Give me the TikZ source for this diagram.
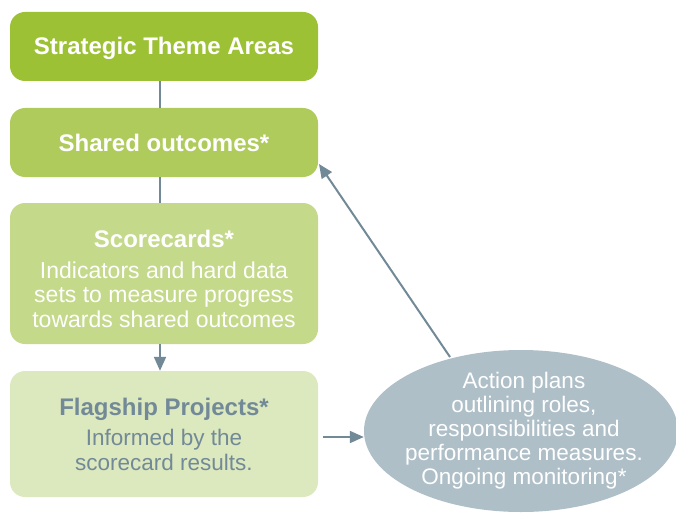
\documentclass[tikz,border=0pt]{standalone}
\usepackage{fontspec}
\setmainfont{Liberation Sans}
\usetikzlibrary{shapes.geometric,arrows.meta}
\definecolor{gA}{HTML}{9DC134}
\definecolor{gB}{HTML}{AFCB5B}
\definecolor{gC}{HTML}{C4D98A}
\definecolor{gD}{HTML}{DCE8BD}
\definecolor{ell}{HTML}{AFBFC8}
\definecolor{con}{HTML}{728A98}
\tikzset{
  box/.style={rounded corners=15pt, minimum width=308pt, inner sep=0pt, align=center, text=white},
  conn/.style={draw=con, line width=2pt},
  tip/.style={-{Triangle[length=14pt,width=12pt]}},
  ttl/.style={font=\fontsize{24}{26}\selectfont\bfseries},
}
\begin{document}
\begin{tikzpicture}[x=1pt,y=-1pt]
\useasboundingbox (0,0) rectangle (676,513);
\node[box, fill=gA, minimum height=69pt] (b1) at (164,46.5) {};
\node[ttl, text=white] (b1t) at (164,48.5) {Strategic Theme Areas};
\node[box, fill=gB, minimum height=69pt] (b2) at (164,142.5) {};
\node[ttl, text=white] (b2t) at (164,143) {Shared outcomes*};
\node[box, fill=gC, minimum height=141pt] (b3) at (164,273.5) {};
\node[ttl, text=white] (b3t) at (164,239) {Scorecards*};
\node[align=center, text=white, font=\fontsize{23}{24.5}\selectfont, anchor=north] (b3b) at (164,258) {Indicators and hard data\\sets to measure progress\\towards shared outcomes};
\node[box, fill=gD, minimum height=126pt] (b4) at (164,434) {};
\node[ttl, text=con] (b4t) at (164,409.5) {Flagship Projects*};
\node[align=center, text=con, font=\fontsize{22.5}{24.5}\selectfont, anchor=north] (b4b) at (164,426) {Informed by the\\scorecard results.};
\node[ellipse, fill=ell, minimum width=314pt, minimum height=162pt, inner sep=0pt] (e) at (521,431) {};
\node[align=center, text=white, font=\fontsize{22.5}{24}\selectfont] (et) at (524,431) {Action plans\\outlining roles,\\responsibilities and\\performance measures.\\Ongoing monitoring*};
\coordinate (h0) at (323,437);
\coordinate (d0) at (450,357);
\coordinate (d1) at (319,164);
\draw[conn] ([xshift=-4pt]b1.south) -- ([xshift=-4pt]b2.north);
\draw[conn] ([xshift=-4pt]b2.south) -- ([xshift=-4pt]b3.north);
\draw[conn, tip] ([xshift=-4pt]b3.south) -- ([xshift=-4pt]b4.north);
\draw[conn, tip] (h0) -- (e.west |- h0);
\draw[conn, tip] (d0) -- (d1);
\end{tikzpicture}
\end{document}
